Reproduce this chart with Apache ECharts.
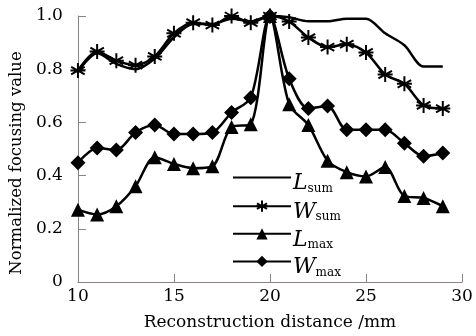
<!DOCTYPE html>
<html><head><meta charset="utf-8">
<script src="https://cdn.jsdelivr.net/npm/echarts@6/dist/echarts.min.js"></script>
<style>html,body{margin:0;padding:0;background:#fff}#c{width:476px;height:336px}</style>
</head><body><div id="c"></div>
<script>
const xValues = [10,11,12,13,14,15,16,17,18,19,20,21,22,23,24,25,26,27,28,29];
const Lsum = [0.79,0.86,0.82,0.80,0.84,0.92,0.97,0.97,0.99,0.98,1.0,0.995,0.98,0.98,0.99,0.99,0.935,0.89,0.81,0.81];
const Wsum = [0.795,0.867,0.832,0.815,0.848,0.935,0.975,0.966,1.0,0.975,1.0,0.979,0.919,0.883,0.894,0.863,0.78,0.745,0.664,0.652];
const Lmax = [0.272,0.254,0.285,0.36,0.469,0.444,0.428,0.435,0.583,0.593,1.0,0.668,0.59,0.456,0.413,0.397,0.432,0.323,0.316,0.285];
const Wmax = [0.448,0.504,0.496,0.562,0.59,0.556,0.556,0.562,0.637,0.693,1.0,0.764,0.652,0.662,0.572,0.572,0.572,0.522,0.473,0.485];
const seriesNames = ['Lsum','Wsum','Lmax','Wmax'];
const legendParts = {Lsum:['L','sum'],Wsum:['W','sum'],Lmax:['L','max'],Wmax:['W','max']};
const yTicks = [0,0.2,0.4,0.6,0.8,1.0];

const serif = '"DejaVu Serif", "Liberation Serif", serif';
const star = 'path://M0,-10L0,10M-9,-5L9,5M-9,5L9,-5M-10,0L10,0';
function pairs(arr){ return xValues.map((x,i)=>[x,arr[i]]); }
function mk(name, data, symbol, size, extra){
  return Object.assign({
    name, type:'line', data:pairs(data), smooth:0.3,
    symbol, symbolSize:size, showSymbol: symbol!=='none',
    lineStyle:{color:'#000', width:2.5},
    itemStyle:{color:'#000', borderColor:'#000', borderWidth:0},
    emphasis:{disabled:true}
  }, extra||{});
}
const chart = echarts.init(document.getElementById('c'));
chart.setOption({
  animation:false,
  backgroundColor:'#fff',
  grid:{left:77,right:14,top:16,bottom:52},
  legend:{
    orient:'vertical', left:227, top:167, itemGap:5, itemWidth:58, itemHeight:14,
    data:[{name:'Lsum', itemStyle:{color:'rgba(0,0,0,0)',borderWidth:0,opacity:0}},'Wsum','Lmax','Wmax'],
    formatter:function(n){ const p=legendParts[n]; return '{i|'+p[0]+'}{s|'+p[1]+'}'; },
    textStyle:{
      color:'#000', padding:[0,0,0,-3],
      rich:{
        i:{fontFamily:serif,fontStyle:'italic',fontSize:22,color:'#000',lineHeight:22,verticalAlign:'bottom'},
        s:{fontFamily:serif,fontSize:12,color:'#000',padding:[22,0,0,0],verticalAlign:'bottom'}
      }
    }
  },
  xAxis:{
    type:'value', min:10, max:30, interval:5,
    name:'Reconstruction distance /mm', nameLocation:'middle', nameGap:32,
    nameTextStyle:{fontFamily:serif,fontSize:17,color:'#000'},
    axisLine:{lineStyle:{color:'#8a8282',width:1}},
    axisTick:{inside:true,length:8,lineStyle:{color:'#8a8282'}},
    axisLabel:{fontFamily:serif,fontSize:17,color:'#000',margin:6},
    splitLine:{show:false}
  },
  yAxis:{
    type:'value', min:0, max:1, interval:0.2,
    name:'Normalized focusing value', nameLocation:'middle', nameGap:52,
    nameTextStyle:{fontFamily:serif,fontSize:16.5,color:'#000',padding:[0,28,0,0]},
    axisLine:{show:true,lineStyle:{color:'#8a8282',width:1}},
    axisTick:{show:true,inside:true,length:8,lineStyle:{color:'#8a8282'}},
    axisLabel:{fontFamily:serif,fontSize:17,color:'#000',margin:15,
      formatter:function(v){ return v===0?'0':v.toFixed(1); }},
    splitLine:{show:false}
  },
  series:[
    mk('Lsum',Lsum,'none',0),
    mk('Wsum',Wsum,star,15,{itemStyle:{color:'#000',borderColor:'#000',borderWidth:2}}),
    mk('Lmax',Lmax,'triangle',14),
    mk('Wmax',Wmax,'diamond',15)
  ]
});
</script></body></html>
